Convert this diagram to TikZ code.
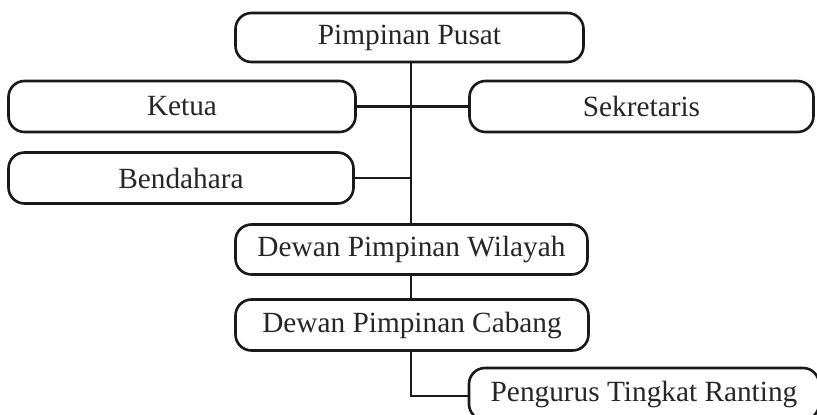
\documentclass[tikz,border=0pt]{standalone}
\usepackage{fontspec}
\setmainfont{Liberation Serif}
\begin{document}
\begin{tikzpicture}[x=1pt,y=-1pt,
  orgbox/.style={draw=black!90, line width=2.6pt, rounded corners=16pt, inner sep=0pt,
    font=\fontsize{29.3}{34}\selectfont, text=black!85},
  link/.style={draw=black!90, line width=2.6pt}]
\clip (0,0) rectangle (817,415);
\fill[white] (0,0) rectangle (817,415);
\node[orgbox, minimum width=348pt, minimum height=49pt] (pusat) at (409.5,37.5) {Pimpinan Pusat};
\node[orgbox, minimum width=347pt, minimum height=51pt] (ketua) at (182,106.5) {Ketua};
\node[orgbox, minimum width=344pt, minimum height=51pt] (sek) at (641.5,106.5) {Sekretaris};
\node[orgbox, minimum width=345pt, minimum height=51pt] (bend) at (181,178) {Bendahara};
\node[orgbox, minimum width=352pt, minimum height=50pt] (wil) at (411.5,249.5) {Dewan Pimpinan Wilayah};
\node[orgbox, minimum width=353pt, minimum height=51pt] (cab) at (412,325) {Dewan Pimpinan Cabang};
\node[orgbox, minimum width=350pt, minimum height=52pt] (rant) at (644,394) {Pengurus Tingkat Ranting};
\coordinate (sp) at (411,0);
\draw[link] (pusat.south -| sp) -- (wil.north -| sp);
\draw[link] (ketua.east) -- (sek.west);
\draw[link] (bend.east) -- (bend.east -| sp);
\draw[link] (wil.south -| sp) -- (cab.north -| sp);
\draw[link] (cab.south -| sp) |- ([yshift=-2pt]rant.west);
\end{tikzpicture}
\end{document}
